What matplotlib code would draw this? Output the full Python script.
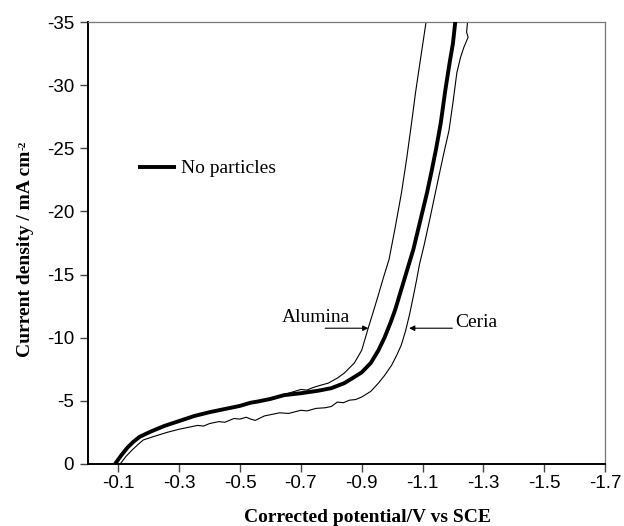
import matplotlib
matplotlib.use("Agg")
import matplotlib.pyplot as plt

plt.rcParams['axes.unicode_minus'] = False

# ---- data (potential V vs SCE, current density mA cm^-2) ----
np_v = [-0.089, -0.11, -0.13, -0.149, -0.17, -0.205, -0.25, -0.30, -0.35, -0.40, -0.45,
        -0.50, -0.535, -0.56, -0.60, -0.645, -0.70, -0.757, -0.80, -0.843, -0.87,
        -0.90, -0.93, -0.955, -0.975, -0.995, -1.01, -1.025, -1.04, -1.055, -1.07,
        -1.085, -1.10, -1.115, -1.13, -1.145, -1.16, -1.175, -1.19, -1.20, -1.21]
np_i = [0.0, -0.7, -1.3, -1.75, -2.15, -2.55, -3.0, -3.4, -3.8, -4.1, -4.35,
        -4.6, -4.85, -4.95, -5.15, -5.45, -5.6, -5.8, -6.0, -6.4, -6.8,
        -7.25, -8.0, -9.0, -10.0, -11.2, -12.2, -13.4, -14.6, -15.8, -17.0,
        -18.5, -20.0, -21.5, -23.2, -25.0, -27.0, -29.6, -31.9, -33.3, -35.5]

al_v = [-0.089, -0.11, -0.13, -0.149, -0.17, -0.205, -0.25, -0.30, -0.35, -0.40, -0.45,
        -0.50, -0.535, -0.56, -0.60, -0.645, -0.68, -0.70, -0.72, -0.74, -0.76, -0.79,
        -0.82, -0.843, -0.876, -0.90, -0.922, -0.94, -0.955, -0.972, -0.99, -1.01,
        -1.031, -1.048, -1.064, -1.077, -1.088, -1.098, -1.111, -1.115]
al_i = [0.0, -0.7, -1.3, -1.75, -2.15, -2.55, -3.0, -3.4, -3.8, -4.1, -4.35,
        -4.6, -4.85, -4.95, -5.2, -5.5, -5.75, -5.9, -5.85, -6.05, -6.2, -6.4,
        -6.8, -7.2, -8.0, -9.0, -10.8, -12.2, -13.4, -14.8, -16.2, -18.7,
        -21.5, -24.2, -27.0, -29.4, -31.2, -32.8, -34.9, -35.5]

ce_v = [-0.106, -0.125, -0.145, -0.165, -0.182, -0.22, -0.26, -0.30, -0.33, -0.36,
        -0.38, -0.40, -0.43, -0.45, -0.48, -0.50, -0.52, -0.535, -0.55, -0.58,
        -0.60, -0.63, -0.66, -0.70, -0.72, -0.75, -0.78, -0.80, -0.82, -0.84,
        -0.86, -0.88, -0.90, -0.93, -0.955, -0.975, -0.998, -1.015, -1.03, -1.045,
        -1.058, -1.07, -1.08, -1.09, -1.105, -1.125, -1.153, -1.17, -1.187, -1.20,
        -1.213, -1.225, -1.236, -1.25, -1.245, -1.25]
ce_i = [0.0, -0.6, -1.1, -1.55, -1.9, -2.2, -2.5, -2.75, -2.9, -3.05,
        -3.0, -3.2, -3.35, -3.3, -3.6, -3.55, -3.7, -3.55, -3.45, -3.8,
        -3.9, -4.05, -4.0, -4.25, -4.2, -4.4, -4.45, -4.55, -4.9, -4.85,
        -5.05, -5.1, -5.3, -5.75, -6.4, -7.0, -7.8, -8.6, -9.4, -10.6,
        -11.9, -13.3, -14.5, -15.8, -17.3, -19.5, -22.7, -24.6, -26.4, -28.6,
        -31.0, -32.2, -33.0, -33.8, -34.2, -35.5]

x_ticks = [-0.1, -0.3, -0.5, -0.7, -0.9, -1.1, -1.3, -1.5, -1.7]
y_ticks = [0, -5, -10, -15, -20, -25, -30, -35]

serif = ['Liberation Serif', 'DejaVu Serif']
sans = ['Liberation Sans', 'DejaVu Sans']

fig = plt.figure(figsize=(6.24, 5.26), dpi=100)
ax = fig.add_axes([0.141, 0.118, 0.8285, 0.84])

ax.plot(al_v, al_i, color='black', lw=0.8, zorder=2)
ax.plot(ce_v, ce_i, color='black', lw=0.8, zorder=2)
ax.plot(np_v, np_i, color='black', lw=2.8, zorder=3, label='No particles',
        solid_capstyle='butt')

ax.set_xlim(0, -1.7)
ax.set_ylim(0, -35)
ax.set_xticks(x_ticks)
ax.set_xticklabels([f"{t:.1f}" for t in x_ticks], family=sans, fontsize=13.5)
ax.set_yticks(y_ticks)
ax.set_yticklabels([f"{t:d}" for t in y_ticks], family=sans, fontsize=13.5)
ax.tick_params(axis='both', direction='out', length=6, width=1.0, color='#444444')
ax.tick_params(axis='x', pad=2)
ax.tick_params(axis='y', pad=4)

for s in ['left', 'bottom']:
    ax.spines[s].set_linewidth(1.4)
    ax.spines[s].set_color('black')
for s in ['top', 'right']:
    ax.spines[s].set_linewidth(0.9)
    ax.spines[s].set_color('#777777')

fig.text(367 / 624, 1 - 517 / 526, 'Corrected potential/V vs SCE', family=serif,
         fontweight='bold', fontsize=14, ha='center', va='center')

ylab = fig.text(26 / 624, 1 - 254 / 526, 'Current density / mA cm', family=serif,
                fontweight='bold', fontsize=14, rotation=90, ha='center', va='center')
fig.canvas.draw()
bb = ylab.get_window_extent()
fig.text((bb.x0 + 1) / 624, (bb.y1 + 1) / 526, '-2', family=serif, fontweight='bold',
         fontsize=8, rotation=90, ha='left', va='bottom')

ax.legend(loc='center left', bbox_to_anchor=(-0.164, -23.4), bbox_transform=ax.transData,
          frameon=False, prop={'family': serif, 'size': 14}, handlelength=1.95,
          handletextpad=0.25, borderpad=0, borderaxespad=0)

ax.annotate('', xy=(-0.922, -10.75), xytext=(-0.78, -10.75),
            arrowprops=dict(arrowstyle='-|>', color='black', lw=0.8, mutation_scale=8,
                            shrinkA=0, shrinkB=0))
ax.text(-0.75, -11.6, 'Alumina', family=serif, fontsize=14, ha='center', va='center')
ax.annotate('', xy=(-1.056, -10.75), xytext=(-1.198, -10.75),
            arrowprops=dict(arrowstyle='-|>', color='black', lw=0.8, mutation_scale=8,
                            shrinkA=0, shrinkB=0))
ax.text(-1.207, -11.2, 'Ceria', family=serif, fontsize=14, ha='left', va='center')

fig.savefig('out.png', dpi=100)
